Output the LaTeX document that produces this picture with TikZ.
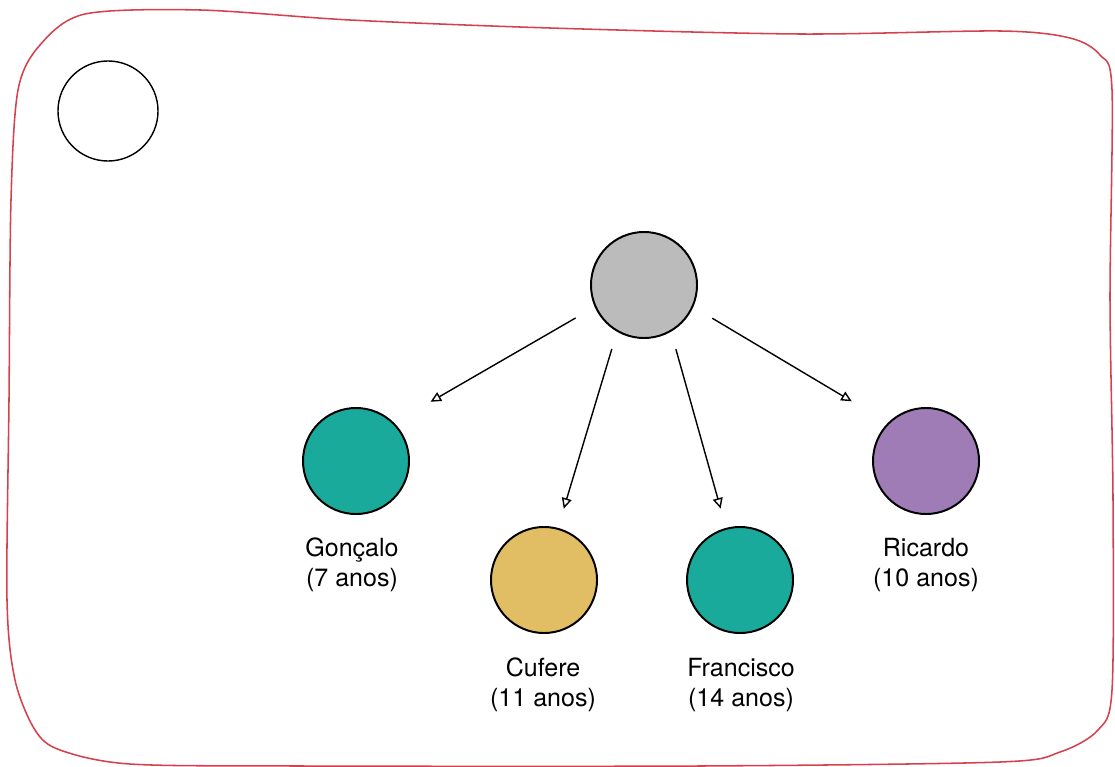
\documentclass[tikz,border=0pt]{standalone}
\usepackage{fontspec}
\setmainfont{TeX Gyre Heros}
\usetikzlibrary{arrows.meta}

\definecolor{moldura}{HTML}{D4424F}
\definecolor{cinza}{HTML}{BBBBBB}
\definecolor{verde}{HTML}{1AAA9B}
\definecolor{amarelo}{HTML}{E1BD63}
\definecolor{roxo}{HTML}{A07CB7}

\begin{document}
\begin{tikzpicture}[x=0.025cm, y=-0.025cm,
		pessoa/.style={circle, draw=black, line width=1.4pt, minimum size=2.65cm, inner sep=0pt},
		nome/.style={align=center, font=\fontsize{17.8}{21.5}\selectfont},
		filho/.style={-{Triangle[open,length=7.5pt,width=7pt]}, line width=1pt}]
	\useasboundingbox (0,0) rectangle (1115,767);
	% Frame
	\draw[moldura, line width=1.1pt] plot[smooth cycle] coordinates {
		(11,200) (18,90) (40,45) (85,14) (200,10) (350,20) (550,28) (800,34)
		(1000,31) (1070,38) (1100,55) (1112,90) (1110,300) (1113,500) (1112,690)
		(1098,730) (1060,752) (1000,762) (700,766) (300,766) (130,764) (60,750)
		(35,730) (15,680) (7,600) (9,400)};
	% Empty circle
	\node[circle, draw=black, line width=1pt, minimum size=2.5cm, inner sep=0pt] (vazio) at (108,111) {};
	% People
	\node[pessoa, fill=cinza] (root) at (644,285) {};
	\node[pessoa, fill=verde] (goncalo) at (356,461) {};
	\node[pessoa, fill=amarelo] (cufere) at (544,580) {};
	\node[pessoa, fill=verde] (francisco) at (740,580) {};
	\node[pessoa, fill=roxo] (ricardo) at (926,461) {};
	% Names
	\node[nome] (goncalo-nome) at (352,565) {Gonçalo\\(7 anos)};
	\node[nome] (cufere-nome) at (543,685) {Cufere\\(11 anos)};
	\node[nome] (francisco-nome) at (741,685) {Francisco\\(14 anos)};
	\node[nome] (ricardo-nome) at (926,565) {Ricardo\\(10 anos)};
	% Arrows
	\draw[filho, shorten <=0.55cm, shorten >=1.05cm] (root.204) -- (goncalo.45);
	\draw[filho, shorten <=0.45cm, shorten >=0.5cm] (root.240) -- (cufere.75);
	\draw[filho, shorten <=0.45cm, shorten >=0.5cm] (root.300) -- (francisco.105);
	\draw[filho, shorten <=0.55cm, shorten >=1.05cm] (root.336) -- (ricardo.135);
\end{tikzpicture}
\end{document}
